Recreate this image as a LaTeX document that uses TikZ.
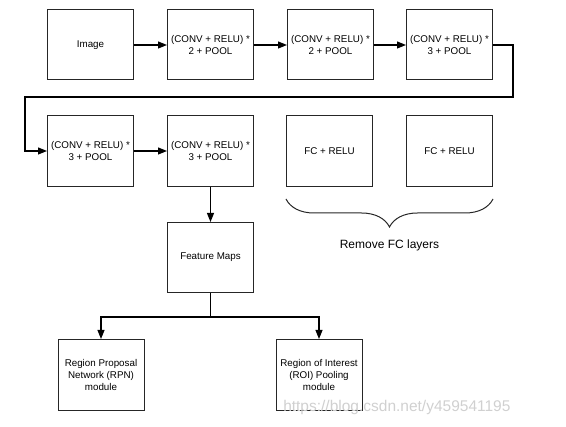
\documentclass[tikz,border=0pt]{standalone}
\usepackage{fontspec}
\setmainfont{Liberation Sans}
\usepackage{tikz}
\usetikzlibrary{positioning,arrows.meta,decorations.pathreplacing,calc}
\definecolor{boxline}{RGB}{38,38,38}
\definecolor{markgray}{RGB}{208,208,208}
\tikzset{
  box/.style={draw=boxline, line width=1pt, fill=white, align=center, minimum width=86pt, minimum height=70pt, inner sep=2pt, font=\fontsize{9.8}{12.3}\selectfont},
  arr/.style={-{Triangle[length=9pt, width=7pt]}, line width=1.1pt, draw=black},
  wire/.style={line width=1.1pt, draw=black},
  brace/.style={decorate, decoration={brace, amplitude=28pt}, line width=1pt, draw=boxline},
}

\begin{document}
\begin{tikzpicture}
    \useasboundingbox (0,0) rectangle (566pt,-427pt);
    % backbone
    \node[box] (img) at (90.5pt,-45pt) {Image};
    \node[box, right=33pt of img] (c1) {(CONV + RELU) *\\ 2 + POOL};
    \node[box, right=33pt of c1] (c2) {(CONV + RELU) *\\ 2 + POOL};
    \node[box, right=32pt of c2] (c3) {(CONV + RELU) *\\ 3 + POOL};
    \node[box, minimum height=71pt] (c4) at (90.5pt,-151pt) {(CONV + RELU) *\\ 3 + POOL};
    \node[box, minimum height=71pt, right=33pt of c4] (c5) {(CONV + RELU) *\\ 3 + POOL};
    \node[box, minimum height=71pt, right=32pt of c5] (fc1) {FC + RELU};
    \node[box, minimum height=71pt, right=33pt of fc1] (fc2) {FC + RELU};
    \node[box, below=35pt of c5] (fm) {Feature Maps};
    \node[box, minimum height=71pt, below=46pt of fm, xshift=-109.5pt] (rpn) {Region Proposal\\ Network (RPN)\\ module};
    \node[box, minimum height=71pt, below=46pt of fm, xshift=108.5pt] (roi) {Region of Interest\\ (ROI) Pooling\\ module};

    \draw[arr] (img) -- (c1);
    \draw[arr] (c1) -- (c2);
    \draw[arr] (c2) -- (c3);
    \coordinate (wrap) at (25pt,-97pt);
    \draw[arr] (c3.east) -- ++(20pt,0) |- (wrap) |- (c4.west);
    \draw[arr] (c4) -- (c5);
    \draw[arr] (c5) -- (fm);
    \coordinate[below=24pt of fm.south] (split);
    \draw[wire] (fm.south) -- (split);
    \draw[arr] (split) -| (rpn.north);
    \draw[arr] (split) -| (roi.north);

    \draw[brace] ([yshift=-12pt]fc2.south east) -- ([yshift=-12pt]fc1.south west)
      node[midway, below=37pt, font=\fontsize{12}{14}\selectfont] (drop) {Remove FC layers};

    \node[text=markgray, font=\fontsize{15.5}{17}\selectfont, anchor=east] (mark) at (514pt,-407pt) {https://blog.csdn.net/y459541195};
  \end{tikzpicture}
\end{document}
